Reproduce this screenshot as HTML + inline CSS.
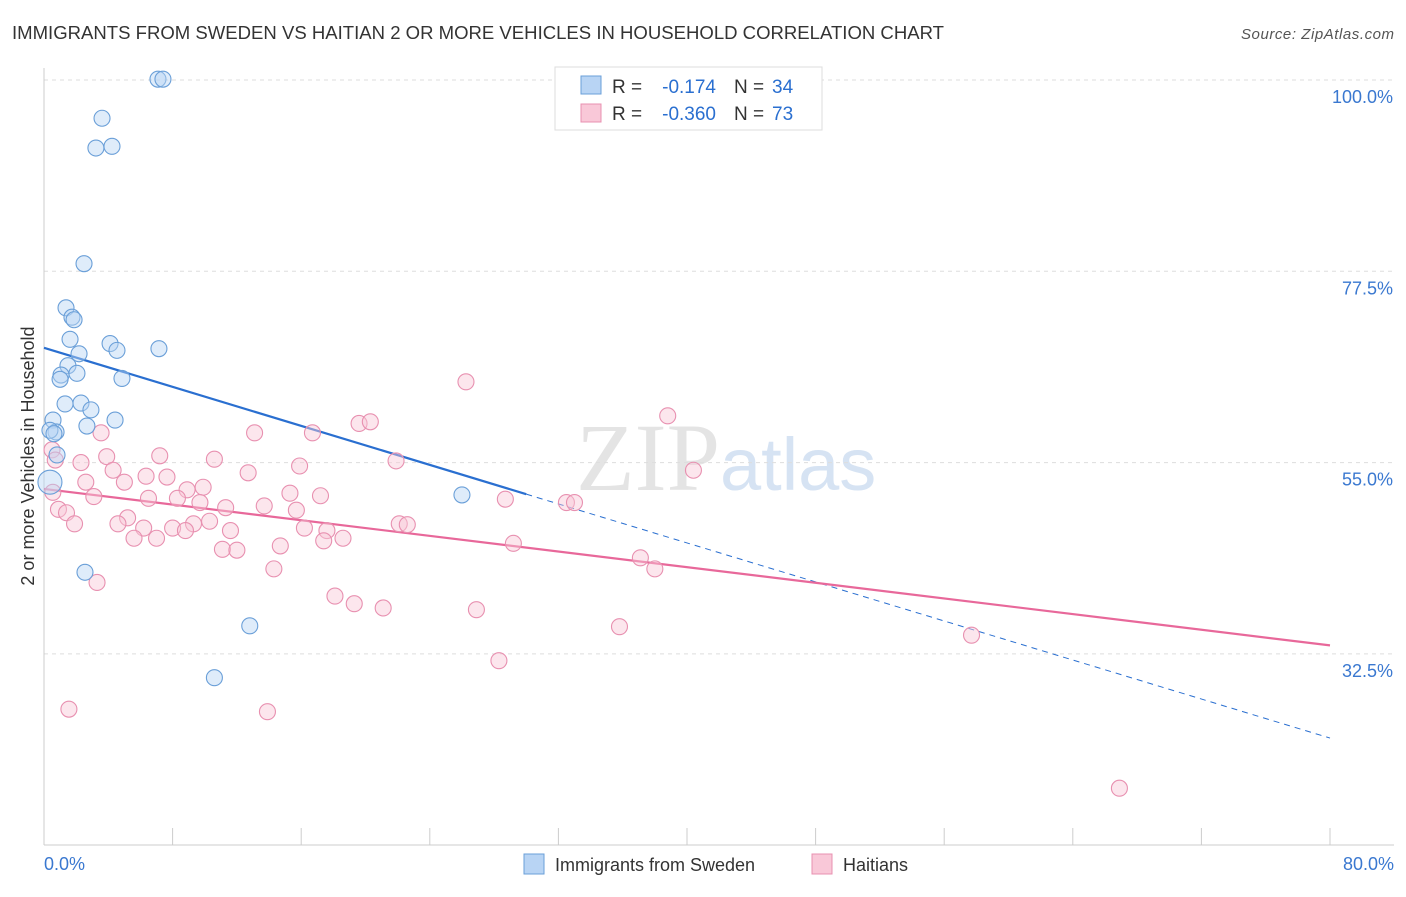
<!DOCTYPE html>
<html><head><meta charset="utf-8"><style>
body{margin:0;background:#fff;font-family:"Liberation Sans",sans-serif;}
</style></head><body>
<svg width="1406" height="892" xmlns="http://www.w3.org/2000/svg" id="chart">
<text x="12" y="39" font-size="18" fill="#333" textLength="932" lengthAdjust="spacingAndGlyphs">IMMIGRANTS FROM SWEDEN VS HAITIAN 2 OR MORE VEHICLES IN HOUSEHOLD CORRELATION CHART</text>
<text x="1394" y="39" font-size="15" fill="#555" font-style="italic" text-anchor="end" textLength="153">Source: ZipAtlas.com</text>
<text x="720" y="490" font-size="96" fill="#e4e4e4" font-family="Liberation Serif" text-anchor="end">ZIP</text>
<text x="720" y="490" font-size="74" fill="#d6e3f3" text-anchor="start">atlas</text>
<text transform="translate(34,456) rotate(-90)" font-size="18" fill="#333" text-anchor="middle">2 or more Vehicles in Household</text>
<g id="grid"></g><g id="axes"></g><g id="trends"></g><g id="pts"></g>
<g>
<rect x="555" y="67" width="267" height="63" fill="#fff" stroke="#ddd"/>
<rect x="581" y="76" width="20" height="18" fill="#b8d4f4" stroke="#6a9fd8"/>
<rect x="581" y="104" width="20" height="18" fill="#f9c8d8" stroke="#e890b0"/>
<text x="612" y="93" font-size="19" fill="#333">R =</text>
<text x="716" y="93" font-size="19" fill="#2a6fd0" text-anchor="end">-0.174</text>
<text x="734" y="93" font-size="19" fill="#333">N =</text>
<text x="772" y="93" font-size="19" fill="#2a6fd0">34</text>
<text x="612" y="120" font-size="19" fill="#333">R =</text>
<text x="716" y="120" font-size="19" fill="#2a6fd0" text-anchor="end">-0.360</text>
<text x="734" y="120" font-size="19" fill="#333">N =</text>
<text x="772" y="120" font-size="19" fill="#2a6fd0">73</text>
</g>
<g>
<rect x="524" y="854" width="20" height="20" fill="#b8d4f4" stroke="#6a9fd8"/>
<text x="555" y="871" font-size="18" fill="#333">Immigrants from Sweden</text>
<rect x="812" y="854" width="20" height="20" fill="#f9c8d8" stroke="#e890b0"/>
<text x="843" y="871" font-size="18" fill="#333">Haitians</text>
</g>
</svg>
<script>
const yTicks=[100,77.5,55,32.5];
const xTickLabels=["0.0%","80.0%"];
const blueX=[7.09,7.40,3.61,3.23,4.23,2.49,1.37,1.74,1.87,1.62,4.11,4.54,7.15,2.18,1.49,1.06,2.05,1.00,4.85,1.31,2.30,2.92,2.67,4.42,0.56,0.75,0.37,0.62,0.81,26.0,2.55,12.8,10.6,0.37];
const blueY=[100.1,100.1,95.5,92.0,92.2,78.4,73.2,72.1,71.8,69.5,69.0,68.2,68.4,67.8,66.4,65.3,65.5,64.8,64.9,61.9,62.0,61.2,59.3,60.0,60.0,58.6,58.8,58.4,55.9,51.2,42.1,35.8,29.7,52.7];
const pinkX=[26.25,38.8,19.6,20.3,13.1,16.7,3.55,0.5,2.3,3.9,7.2,10.6,15.9,21.9,4.3,12.7,40.4,6.35,7.65,5.0,2.6,9.9,8.9,15.3,6.5,8.3,17.2,3.1,9.7,0.55,28.7,32.5,33.0,13.7,11.3,15.7,0.9,1.4,5.2,10.3,9.3,1.9,4.6,6.2,8.0,8.8,11.6,22.1,22.6,17.6,16.2,18.6,17.4,5.6,7.0,11.1,12.0,14.7,29.2,37.1,38.0,14.3,3.3,18.1,19.3,21.1,26.9,35.8,57.7,28.3,1.55,13.9,66.9,0.7];
const pinkY=[64.5,60.5,59.6,59.8,58.5,58.5,58.5,56.5,55.0,55.7,55.8,55.4,54.6,55.2,54.1,53.8,54.1,53.4,53.3,52.7,52.7,52.1,51.8,51.4,50.8,50.8,51.1,51.0,50.3,51.5,50.7,50.3,50.3,49.9,49.7,49.4,49.5,49.1,48.5,48.1,47.8,47.8,47.8,47.3,47.3,47.0,47.0,47.8,47.7,47.0,47.3,46.1,45.8,46.1,46.1,44.8,44.7,45.2,45.5,43.8,42.5,42.5,40.9,39.3,38.4,37.9,37.7,35.7,34.7,31.7,26.0,25.7,16.7,55.3];
const blueTrend=[68.5,22.6]; const blueSolidEnd=30.0;
const pinkTrend=[51.9,33.5];
const NS="http://www.w3.org/2000/svg";
const X=v=>44+v/80*1286, Y=v=>80+(100-v)*8.502;
function mk(t,a,p){const e=document.createElementNS(NS,t);for(const k in a)e.setAttribute(k,a[k]);document.getElementById(p).appendChild(e);return e;}
yTicks.forEach(t=>{
 const l=mk('line',{x1:44,x2:1394,y1:Y(t),y2:Y(t),stroke:'#ddd','stroke-dasharray':'4,4'},'grid');
 
 
 const tx=mk('text',{x:1393,y:Y(t)+23,'font-size':18,fill:'#3a78d0','text-anchor':'end'},'grid');
 tx.textContent=t.toFixed(1)+'%';
 
 
});
mk('line',{x1:44,x2:44,y1:68,y2:845,stroke:'#ccc'},'axes');
mk('line',{x1:44,x2:1394,y1:845,y2:845,stroke:'#ccc'},'axes');
for(let i=0;i<=10;i++){const t=mk('line',{x1:X(i*8),x2:X(i*8),y1:828,y2:845,stroke:'#ccc'},'axes');
 
 }
[[0,'start',44],[80,'end',1394]].forEach((d,i)=>{const t=mk('text',{x:d[2],y:870,'font-size':18,fill:'#3a78d0','text-anchor':d[1]},'axes');t.textContent=xTickLabels[i];
 
 });
const by=x=>blueTrend[0]+(blueTrend[1]-blueTrend[0])*x/80;
const py=x=>pinkTrend[0]+(pinkTrend[1]-pinkTrend[0])*x/80;
function pts(xs,ys,fill,stroke,name){xs.forEach((x,i)=>{const c=mk('circle',{cx:X(x),cy:Y(ys[i]),r:(name=='blue-point'&&i==xs.length-1)?12:8,fill:fill,'fill-opacity':0.45,stroke:stroke,'stroke-width':1.1},'pts');
 
 });}
pts(pinkX,pinkY,'#f9c8d8','#e890b0','pink-point');
pts(blueX,blueY,'#b8d4f4','#6a9fd8','blue-point');
let l=mk('line',{x1:X(0),y1:Y(by(0)),x2:X(blueSolidEnd),y2:Y(by(blueSolidEnd)),stroke:'#2a6fd0','stroke-width':2.2},'trends');


l=mk('line',{x1:X(blueSolidEnd),y1:Y(by(blueSolidEnd)),x2:X(80),y2:Y(by(80)),stroke:'#2a6fd0','stroke-width':1,'stroke-dasharray':'6,5'},'trends');


l=mk('line',{x1:X(0),y1:Y(py(0)),x2:X(80),y2:Y(py(80)),stroke:'#e8689a','stroke-width':2.2},'trends');


</script>
</body></html>
